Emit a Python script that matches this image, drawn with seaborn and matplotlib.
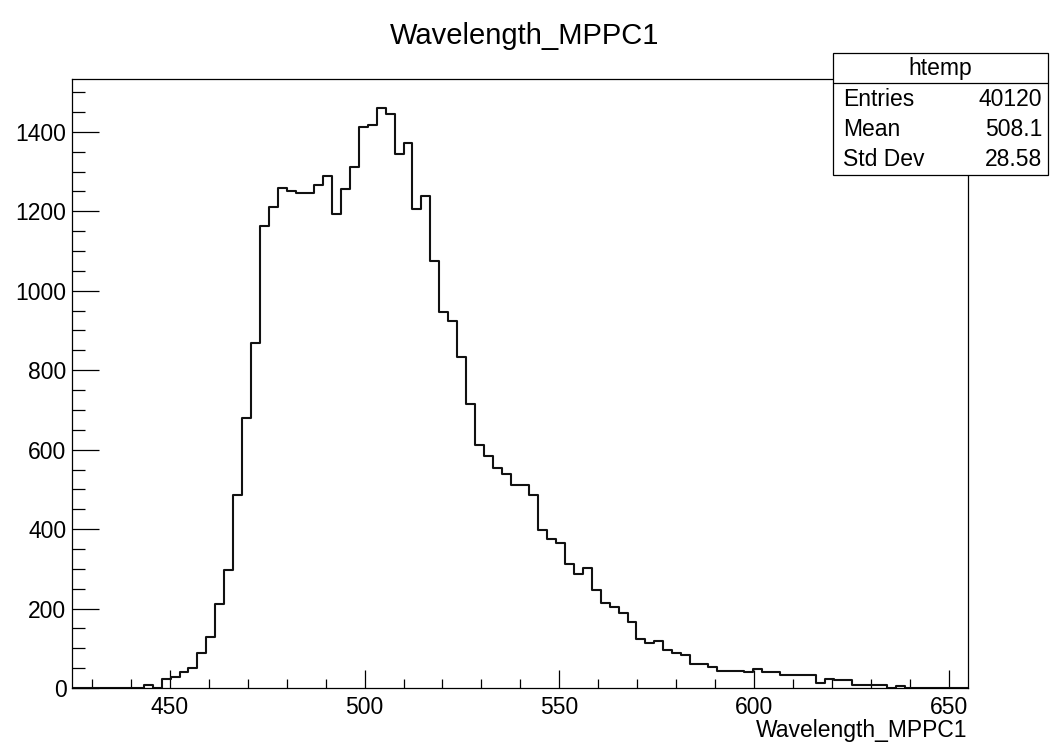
import numpy as np
import pandas as pd
import matplotlib
matplotlib.use("Agg")
import matplotlib.pyplot as plt
import seaborn as sns
from matplotlib.ticker import MultipleLocator
from matplotlib.patches import Rectangle
from matplotlib.lines import Line2D

# ---- data ----
x_min = 424.9
x_max = 654.9
n_bins = 100
counts = [
    0, 0, 0, 0, 0, 0, 0, 0, 8, 0,
    22, 27, 40, 50, 89, 129, 212, 296, 486, 679,
    869, 1162, 1211, 1258, 1250, 1245, 1245, 1266, 1290, 1193,
    1255, 1311, 1412, 1417, 1460, 1446, 1343, 1372, 1207, 1238,
    1076, 947, 923, 833, 716, 612, 583, 554, 539, 510,
    510, 486, 397, 376, 365, 312, 288, 301, 247, 214,
    203, 190, 166, 124, 114, 118, 96, 87, 82, 61,
    61, 52, 44, 44, 44, 40, 48, 40, 40, 33,
    33, 33, 33, 12, 22, 20, 20, 8, 8, 8,
    8, 1, 4, 0, 0, 0, 0, 0, 0, 0,
]
title = "Wavelength_MPPC1"
xlabel = "Wavelength_MPPC1"
stats_name = "htemp"
stats_labels = ["Entries", "Mean", "Std Dev"]
stats_values = ["40120", "508.1", "28.58"]
y_max = 1533

edges = np.linspace(x_min, x_max, n_bins + 1)
centers = (edges[:-1] + edges[1:]) / 2
df = pd.DataFrame({"wavelength": centers, "count": counts})

sns.set_style("ticks")
plt.rcParams["font.family"] = ["Liberation Sans", "DejaVu Sans"]
plt.rcParams["text.color"] = "black"

W, H = 1050, 745
fig = plt.figure(figsize=(W / 100, H / 100), dpi=100)
L, R, T, B = 72, 968, 79, 688
ax = fig.add_axes([L / W, 1 - B / H, (R - L) / W, (B - T) / H])

sns.histplot(data=df, x="wavelength", weights="count", bins=n_bins,
             binrange=(x_min, x_max), element="step", fill=False,
             color="#111111", linewidth=1.5, ax=ax)

ax.set_xlim(x_min, x_max)
ax.set_ylim(0, y_max)
ax.set_xlabel("")
ax.set_ylabel("")

ax.xaxis.set_major_locator(MultipleLocator(50))
ax.xaxis.set_minor_locator(MultipleLocator(10))
ax.yaxis.set_major_locator(MultipleLocator(200))
ax.yaxis.set_minor_locator(MultipleLocator(50))

fs = 16.5
ax.tick_params(axis="x", which="major", direction="in", length=13, width=0.9,
               labelsize=fs, pad=6, bottom=True, top=False, color="black",
               labelcolor="black")
ax.tick_params(axis="x", which="minor", direction="in", length=6.5, width=0.9,
               bottom=True, top=False, color="black")
ax.tick_params(axis="y", which="major", direction="in", length=19.4, width=0.9,
               labelsize=fs, pad=4, left=True, right=False, color="black",
               labelcolor="black")
ax.tick_params(axis="y", which="minor", direction="in", length=9.7, width=0.9,
               left=True, right=False, color="black")
for s in ax.spines.values():
    s.set_visible(True)
    s.set_color("black")
    s.set_linewidth(0.9)

fig.text(0.5, 1 - 44 / H, title, ha="center", va="baseline", fontsize=21,
         color="black")
fig.text(967 / W, 1 - 737 / H, xlabel, ha="right", va="baseline", fontsize=fs,
         color="black")

# stats box
bx0, bx1, by0, by1, bdiv = 833, 1048, 53, 175, 83
fig.add_artist(Rectangle((bx0 / W, 1 - by1 / H), (bx1 - bx0) / W, (by1 - by0) / H,
                         transform=fig.transFigure, facecolor="white",
                         edgecolor="black", linewidth=0.9, zorder=10))
fig.add_artist(Line2D([bx0 / W, bx1 / W], [1 - bdiv / H, 1 - bdiv / H],
                      transform=fig.transFigure, color="black", linewidth=0.9, zorder=11))
fig.text((bx0 + bx1) / 2 / W, 1 - 68 / H, stats_name, ha="center", va="center",
         fontsize=fs, zorder=12, color="black")
row_y = [100, 130, 159]
for lab, val, yy in zip(stats_labels, stats_values, row_y):
    fig.text(843 / W, 1 - yy / H, lab, ha="left", va="center", fontsize=fs,
             zorder=12, color="black")
    fig.text(1042 / W, 1 - yy / H, val, ha="right", va="center", fontsize=fs,
             zorder=12, color="black")

fig.savefig("out.png", dpi=100)
